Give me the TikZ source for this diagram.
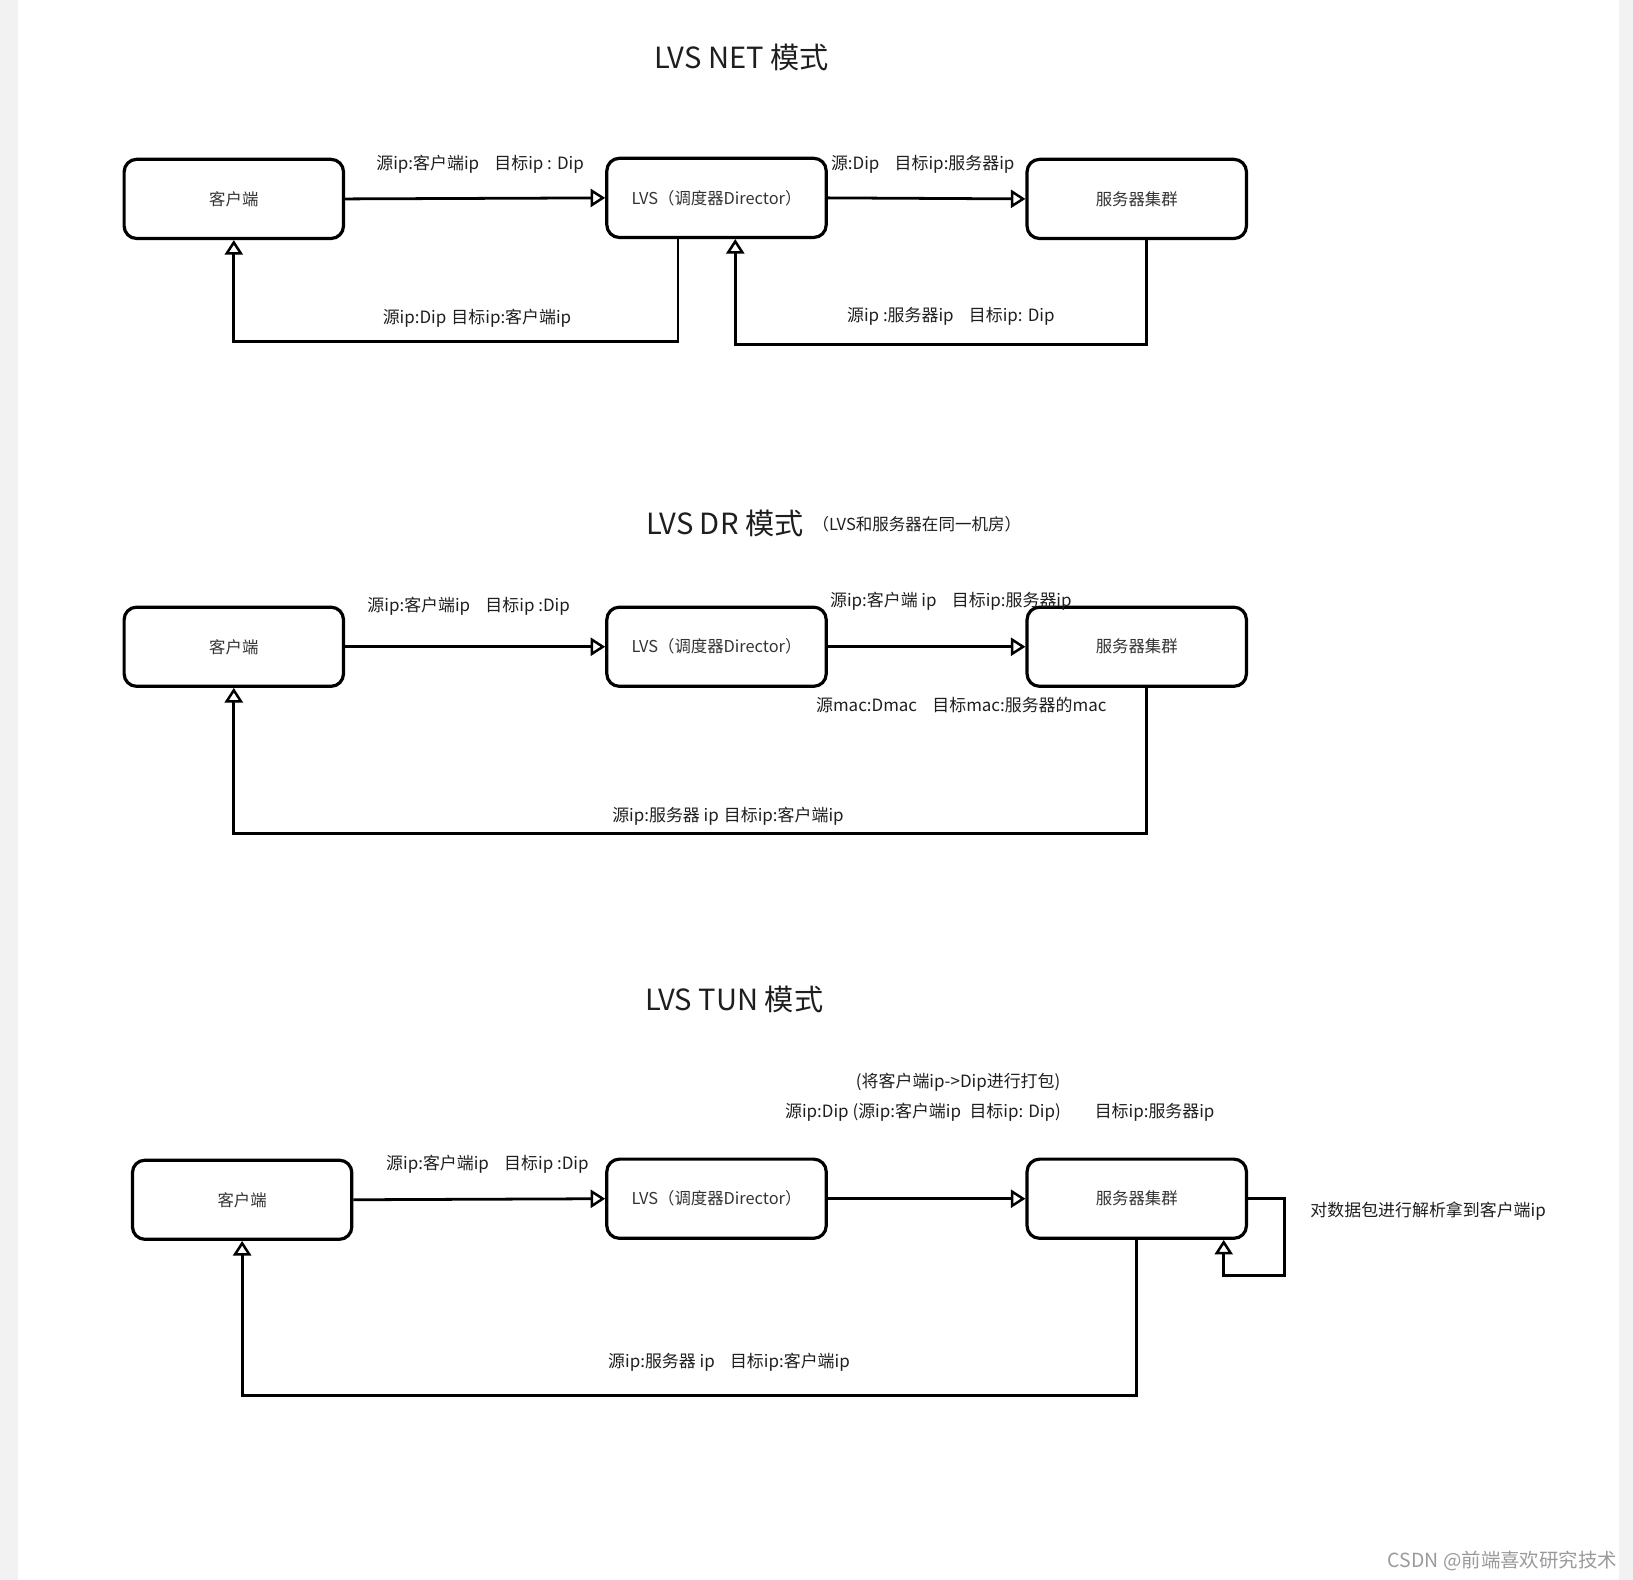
\documentclass[tikz,border=0pt]{standalone}
\usepackage{fontspec}
\setmainfont{Noto Sans CJK SC}
\usetikzlibrary{arrows.meta}
\definecolor{strip}{HTML}{F2F2F2}
\definecolor{txt}{HTML}{1E1E1E}
\definecolor{boxtxt}{HTML}{333333}
\definecolor{wm}{HTML}{9A9A9A}
\begin{document}
\begin{tikzpicture}[x=0.75pt,y=-0.75pt,
  box/.style={draw, line width=2.3pt, rounded corners=9pt, minimum width=158pt, minimum height=57pt, inner sep=0pt, text=boxtxt, font=\fontsize{11.8pt}{14pt}\selectfont},
  conn/.style={line width=2pt, -{Triangle[open, length=10.5pt, width=13pt, line width=1.8pt]}},
  lbl/.style={inner sep=0pt, text=txt, font=\fontsize{12.2pt}{15pt}\selectfont},
  ttl/.style={inner sep=0pt, text=txt, font=\fontsize{21pt}{25pt}\selectfont}]
\useasboundingbox (0,0) rectangle (1568,1517);
\fill[strip] (0,0) rectangle (17.3,1517);
\fill[strip] (1554.5,0) rectangle (1568,1517);

% ---------------- NET ----------------
\node[ttl] (t1) at (712,55) {LVS NET 模式};
\node[box] (c1) at (224.5,191) {客户端};
\node[box] (l1) at (688,190) {LVS（调度器Director）};
\node[box] (s1) at (1091.5,191) {服务器集群};
\draw[conn] (c1.east) -- (l1.west);
\draw[conn] (l1.east) -- (s1.west);
\coordinate (n1) at (651,328);
\coordinate (n2) at (1101,331);
\coordinate (n3) at (706,331);
\draw[conn] (l1.south -| n1) -- (n1) -| (c1.south);
\draw[conn] (s1.south -| n2) -- (n2) -- (n3) -- (l1.south -| n3);
\node[lbl] (a1) at (461,158) {源ip:客户端ip\hspace{0.9em}目标ip : Dip};
\node[lbl] (a2) at (886,158) {源:Dip\hspace{0.9em}目标ip:服务器ip};
\node[lbl] (a3) at (458,306) {源ip:Dip\hspace{0.3em}目标ip:客户端ip};
\node[lbl] (a4) at (913,304) {源ip :服务器ip\hspace{0.9em}目标ip:\hspace{0.3em}Dip};

% ---------------- DR ----------------
\node[ttl] (t2) at (696,503) {LVS DR 模式};
\node[lbl, anchor=west, font=\fontsize{11.9pt}{14pt}\selectfont] (t2b) at (780,503) {（LVS和服务器在同一机房）};
\node[box] (c2) at (224.5,621) {客户端};
\node[box] (l2) at (688,621) {LVS（调度器Director）};
\node[box] (s2) at (1091.5,621) {服务器集群};
\draw[conn] (c2.east) -- (l2.west);
\draw[conn] (l2.east) -- (s2.west);
\coordinate (d1) at (1101,800);
\draw[conn] (s2.south -| d1) -- (d1) -| (c2.south);
\node[lbl] (b1) at (450,582) {源ip:客户端ip\hspace{0.9em}目标ip :Dip};
\node[lbl] (b2) at (913,577) {源ip:客户端 ip\hspace{0.9em}目标ip:服务器ip};
\node[lbl] (b3) at (923,677) {源mac:Dmac\hspace{0.9em}目标mac:服务器的mac};
\node[lbl] (b4) at (699,784) {源ip:服务器 ip\hspace{0.3em}目标ip:客户端ip};

% ---------------- TUN ----------------
\node[ttl] (t3) at (705,960) {LVS TUN 模式};
\node[box] (c3) at (232.5,1152) {客户端};
\node[box] (l3) at (688,1151) {LVS（调度器Director）};
\node[box] (s3) at (1091.5,1151) {服务器集群};
\draw[conn] (c3.east) -- (l3.west);
\draw[conn] (l3.east) -- (s3.west);
\coordinate (u1) at (1233,1225);
\coordinate (u2) at (1175,1225);
\draw[conn] (s3.east) -| (u1) -- (u2) -- (s3.south -| u2);
\coordinate (u3) at (1091,1340);
\draw[conn] (s3.south -| u3) -- (u3) -| (c3.south);
\node[lbl] (e1) at (468,1118) {源ip:客户端ip\hspace{0.9em}目标ip :Dip};
\node[lbl] (e2) at (920,1039) {(将客户端ip->Dip进行打包)};
\node[lbl] (e3) at (960,1068) {源ip:Dip (源ip:客户端ip\hspace{0.5em}目标ip: Dip)\hspace{2em}目标ip:服务器ip};
\node[lbl, anchor=west] (e4) at (1258,1163) {对数据包进行解析拿到客户端ip};
\node[lbl] (e5) at (700,1308) {源ip:服务器 ip\hspace{0.9em}目标ip:客户端ip};

% watermark
\node[inner sep=0pt, anchor=east, text=wm, font=\fontsize{14pt}{16pt}\selectfont] (wmk) at (1553,1499) {CSDN @前端喜欢研究技术};
\end{tikzpicture}
\end{document}
